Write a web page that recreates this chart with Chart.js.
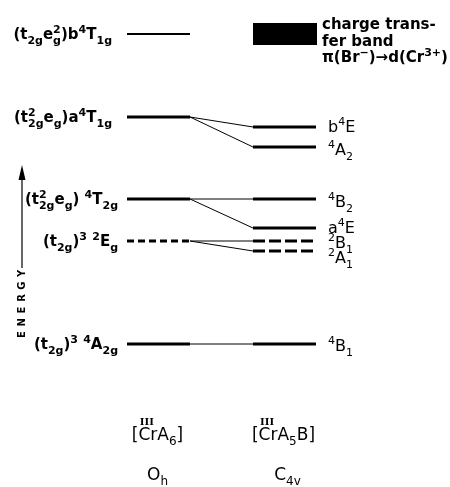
<!DOCTYPE html>
<html>
<head>
<meta charset="utf-8">
<script src="https://cdn.jsdelivr.net/npm/chart.js@4/dist/chart.umd.min.js"></script>
<style>
  body { margin: 0; background: #fff; }
  canvas { display: block; }
</style>
</head>
<body>
<canvas id="canvas-levels" width="450" height="487"></canvas>
<script>
// energy levels, arbitrary units (ground state = 0)
const ohLabels = ['(t_{2g}e_g^2)b^4T_{1g}', '(t_{2g}^2e_g)a^4T_{1g}', '(t_{2g}^2e_g) ^4T_{2g}', '(t_{2g})^3 ^2E_g', '(t_{2g})^3 ^4A_{2g}'];
const ohEnergy = [310, 227, 145, 103, 0];
const ohSpin = [4, 4, 4, 2, 4];

const c4vLabels = ['b^4E', '^4A_2', '^4B_2', 'a^4E', '^2B_1', '^2A_1', '^4B_1'];
const c4vEnergy = [217, 197, 145, 116, 103, 93, 0];
const c4vSpin = [4, 4, 4, 4, 2, 2, 4];
const c4vParent = [1, 1, 2, 2, 3, 3, 4]; // index into the Oh levels

const ctBand = [299, 321]; // charge transfer band, lower / upper edge
const ctLines = ['charge trans-', 'fer band', 'π(Br^−)→d(Cr^{3+})'];

const columnNames = ['[CrA_6]', '[CrA_5B]'];
const groupNames = ['O_h', 'C_{4v}'];

// layout (pixels / x units)
const OH_X = [127, 190];
const C4V_X = [253, 316];
const ohLabelShift = [-6, -6, 0, 0, 0];
const c4vLabelShift = [0, 3, 3, 0, 2, 7, 2];

function parseRich(str) {
  const segs = [];
  let buf = '';
  for (let i = 0; i < str.length; i++) {
    const c = str[i];
    if (c === '_' || c === '^') {
      if (buf) { segs.push({ t: buf, k: 'n' }); buf = ''; }
      let t;
      if (str[i + 1] === '{') {
        const end = str.indexOf('}', i);
        t = str.slice(i + 2, end);
        i = end;
      } else {
        t = str[i + 1];
        i++;
      }
      segs.push({ t: t, k: c === '_' ? 'sub' : 'sup' });
    } else {
      buf += c;
    }
  }
  if (buf) segs.push({ t: buf, k: 'n' });
  // group sub/sup that follow each other so they stack
  const units = [];
  segs.forEach(s => {
    const last = units[units.length - 1];
    if (s.k !== 'n' && last && last.script && !last.parts.some(p => p.k === s.k)) {
      last.parts.push(s);
    } else {
      units.push({ script: s.k !== 'n', parts: [s] });
    }
  });
  return units;
}

function richFont(size, weight, k) {
  const s = k === 'n' ? size : Math.round(size * 0.7);
  return weight + ' ' + s + 'px "DejaVu Sans", sans-serif';
}

function measureRich(ctx, units, size, weight) {
  let w = 0;
  units.forEach(u => {
    let uw = 0;
    u.parts.forEach(p => {
      ctx.font = richFont(size, weight, p.k);
      uw = Math.max(uw, ctx.measureText(p.t).width);
    });
    u.w = uw;
    w += uw;
  });
  return w;
}

function drawRich(ctx, str, x, y, align, size, weight) {
  const units = parseRich(str);
  const w = measureRich(ctx, units, size, weight);
  let cx = align === 'right' ? x - w : align === 'center' ? x - w / 2 : x;
  ctx.textAlign = 'left';
  ctx.textBaseline = 'alphabetic';
  units.forEach(u => {
    u.x = cx;
    u.parts.forEach(p => {
      ctx.font = richFont(size, weight, p.k);
      let dy = 0;
      if (p.k === 'sub') dy = size * 0.3;
      if (p.k === 'sup') dy = -size * 0.42;
      ctx.fillText(p.t, cx, y + dy);
    });
    cx += u.w;
  });
  return units;
}

const labelPlugin = {
  id: 'levelLabels',
  afterDraw(chart) {
    const ctx = chart.ctx;
    const ys = chart.scales.y;
    const xs = chart.scales.x;
    ctx.save();
    ctx.fillStyle = '#000';
    ctx.strokeStyle = '#000';

    ohLabels.forEach((lab, i) => {
      drawRich(ctx, lab, xs.getPixelForValue(OH_X[0]) - 9 + ohLabelShift[i], ys.getPixelForValue(ohEnergy[i]) + 5, 'right', 15, 'bold');
    });
    c4vLabels.forEach((lab, i) => {
      drawRich(ctx, lab, xs.getPixelForValue(C4V_X[1]) + 12, ys.getPixelForValue(c4vEnergy[i]) + 5 + c4vLabelShift[i], 'left', 16, 'normal');
    });

    // charge transfer band text
    const ctTop = ys.getPixelForValue(ctBand[1]);
    ctLines.forEach((line, i) => {
      drawRich(ctx, line, 322, ctTop + 6 + i * 16.5, 'left', 15, 'bold');
    });

    // complex formulae and point groups under the columns
    [OH_X, C4V_X].forEach((col, i) => {
      const cx = xs.getPixelForValue((col[0] + col[1]) / 2) - 1;
      const units = drawRich(ctx, columnNames[i], cx, 440, 'center', 17, 'normal');
      // oxidation state over Cr
      ctx.font = '17px "DejaVu Sans", sans-serif';
      const bw = ctx.measureText('[').width;
      const crw = ctx.measureText('Cr').width;
      ctx.font = 'bold 10px "DejaVu Serif", serif';
      ctx.textAlign = 'center';
      ctx.fillText('III', units[0].x + bw + crw / 2 - 1, 425);
      drawRich(ctx, groupNames[i], cx + (i === 1 ? 4 : 0), 480, 'center', 17, 'normal');
    });

    // energy arrow
    const ax = 22;
    ctx.lineWidth = 1.2;
    ctx.beginPath();
    ctx.moveTo(ax, 268);
    ctx.lineTo(ax, 175);
    ctx.stroke();
    ctx.beginPath();
    ctx.moveTo(ax, 165);
    ctx.lineTo(ax - 3.5, 180);
    ctx.lineTo(ax + 3.5, 180);
    ctx.closePath();
    ctx.fill();

    ctx.translate(25, 304);
    ctx.rotate(-Math.PI / 2);
    ctx.font = 'bold 10px "DejaVu Sans", sans-serif';
    ctx.textAlign = 'center';
    const word = 'ENERGY';
    const step = 12.2;
    for (let k = 0; k < word.length; k++) {
      ctx.fillText(word[k], (k - (word.length - 1) / 2) * step, 0);
    }
    ctx.restore();
  }
};

function levelSet(x, e, spin, width, dash) {
  return {
    data: [{ x: x[0], y: e }, { x: x[1], y: e }],
    showLine: true,
    borderColor: '#000',
    borderWidth: width,
    borderDash: spin === 2 ? dash : [],
    pointRadius: 0,
    fill: false
  };
}

function start() {
  const ctx = document.getElementById('canvas-levels').getContext('2d');
  const datasets = [];

  // charge transfer band: area between its two edges
  datasets.push({
    data: [{ x: C4V_X[0], y: ctBand[1] }, { x: C4V_X[1] + 1, y: ctBand[1] }],
    showLine: true, borderWidth: 0, pointRadius: 0,
    borderColor: '#000', backgroundColor: '#000', fill: '+1'
  });
  datasets.push({
    data: [{ x: C4V_X[0], y: ctBand[0] }, { x: C4V_X[1] + 1, y: ctBand[0] }],
    showLine: true, borderWidth: 0, pointRadius: 0, borderColor: '#000', fill: false
  });

  ohEnergy.forEach((e, i) => {
    datasets.push(levelSet(OH_X, e, ohSpin[i], i === 0 ? 2 : 3, [7, 4]));
  });
  c4vEnergy.forEach((e, i) => {
    datasets.push(levelSet(C4V_X, e, c4vSpin[i], 3, [12, 4]));
  });

  // correlation lines Oh -> C4v
  c4vEnergy.forEach((e, i) => {
    datasets.push({
      data: [{ x: OH_X[1], y: ohEnergy[c4vParent[i]] }, { x: C4V_X[0], y: e }],
      showLine: true, borderColor: '#000', borderWidth: 1, pointRadius: 0, fill: false
    });
  });

  new Chart(ctx, {
    type: 'scatter',
    data: { datasets: datasets },
    options: {
      responsive: false,
      animation: false,
      layout: { padding: 0 },
      scales: {
        x: { type: 'linear', min: 0, max: 450, display: false },
        y: { type: 'linear', min: -143, max: 344, display: false }
      },
      plugins: {
        legend: { display: false },
        tooltip: { enabled: false }
      }
    },
    plugins: [labelPlugin]
  });
}

window.addEventListener('load', start);
</script>
</body>
</html>
